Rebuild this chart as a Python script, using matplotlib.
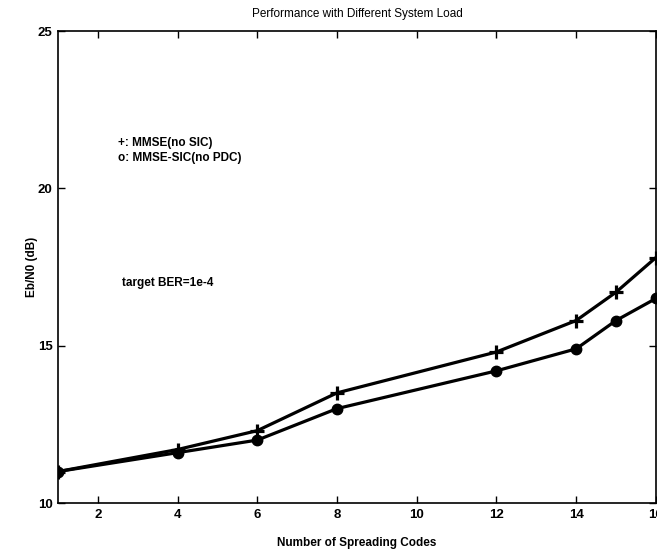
import matplotlib
matplotlib.use('Agg')
import matplotlib.pyplot as plt

plt.rcParams['font.family'] = ['Liberation Sans', 'DejaVu Sans']

codes = [1, 4, 6, 8, 12, 14, 15, 16]
mmse_no_sic = [11.0, 11.7, 12.3, 13.5, 14.8, 15.8, 16.7, 17.8]
mmse_sic = [11.0, 11.6, 12.0, 13.0, 14.2, 14.9, 15.8, 16.5]

fig = plt.figure(figsize=(6.57, 5.53), dpi=100)
ax = fig.add_axes([0.0883, 0.0904, 0.910, 0.8535])

ax.plot(codes, mmse_no_sic, color='black', linewidth=2.3, marker='+',
        markersize=10, markeredgewidth=2.3)
ax.plot(codes, mmse_sic, color='black', linewidth=2.3, marker='o',
        markersize=7.5, markerfacecolor='black')

ax.set_xlim(1, 16)
ax.set_ylim(10, 25)
ax.set_xticks([2, 4, 6, 8, 10, 12, 14, 16])
ax.set_yticks([10, 15, 20, 25])
ax.tick_params(direction='in', top=True, right=True, length=5, width=1,
               labelsize=9.5, pad=4)
for lbl in ax.get_xticklabels() + ax.get_yticklabels():
    lbl.set_fontweight('bold')
for s in ax.spines.values():
    s.set_linewidth(1.2)

ax.text(2.5, 21.45, '+: MMSE(no SIC)', fontsize=8.5, fontweight='bold', va='center')
ax.text(2.5, 20.95, 'o: MMSE-SIC(no PDC)', fontsize=8.5, fontweight='bold', va='center')
ax.text(2.6, 17.0, 'target BER=1e-4', fontsize=8.5, fontweight='bold', va='center')

ax.set_title('Performance with Different System Load', fontsize=8.5, pad=10)
ax.set_xlabel('Number of Spreading Codes', fontsize=8.5, fontweight='bold', labelpad=12)
ax.set_ylabel('Eb/N0 (dB)', fontsize=8.5, fontweight='bold', labelpad=0)

fig.savefig('out.png', dpi=100)
